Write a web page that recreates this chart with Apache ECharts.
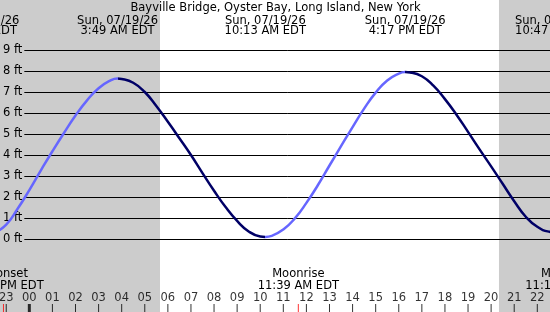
<!DOCTYPE html>
<html style="height: 100%">
<head>
  <meta charset="UTF-8" />
  <title>Tides</title>
  <script src="https://cdn.jsdelivr.net/npm/echarts@6/dist/echarts.min.js"></script>
</head>
<body style="height: 100%; margin: 0; background: #fff">
  <div id="container" style="width: 550px; height: 312px"></div>
  <script>
    // hours are counted from midnight of 07/19/26
    const tideHours = [-1.5, -1, -0.5, 0, 0.5, 1, 1.5, 2, 2.5, 3, 3.5, 3.82, 4, 4.5, 5, 5.5, 6, 6.5, 7, 7.5,
      8, 8.5, 9, 9.5, 10, 10.22, 10.5, 11, 11.5, 12, 12.5, 13, 13.5, 14, 14.5, 15, 15.5, 16, 16.28, 16.5,
      17, 17.5, 18, 18.5, 19, 19.5, 20, 20.5, 21, 21.5, 22, 22.5, 22.78, 23];
    const tideFeet = [0.3, 0.68, 1.45, 2.33, 3.27, 4.18, 5.05, 5.88, 6.6, 7.18, 7.54, 7.64, 7.62, 7.44, 7.0, 6.33,
      5.58, 4.8, 4.0, 3.14, 2.3, 1.52, 0.86, 0.36, 0.12, 0.1, 0.15, 0.45, 0.98, 1.72, 2.57, 3.5, 4.42, 5.33,
      6.21, 6.97, 7.55, 7.88, 7.95, 7.93, 7.75, 7.3, 6.66, 5.92, 5.1, 4.27, 3.46, 2.63, 1.8, 1.06, 0.58,
      0.35, 0.32, 0.33];

    const eventHours = [-2.12, 3.82, 10.22, 16.28, 22.78];
    const eventDates = ['Sat, 07/18/26', 'Sun, 07/19/26', 'Sun, 07/19/26', 'Sun, 07/19/26', 'Sun, 07/19/26'];
    const eventTimes = ['9:52 PM EDT', '3:49 AM EDT', '10:13 AM EDT', '4:17 PM EDT', '10:47 PM EDT'];

    const moonHours = [-1.12, 11.65, 23.22];
    const moonNames = ['Moonset', 'Moonrise', 'Moonset'];
    const moonTimes = ['10:53 PM EDT', '11:39 AM EDT', '11:13 PM EDT'];

    const hourTicks = [-1, 0, 1, 2, 3, 4, 5, 6, 7, 8, 9, 10, 11, 12, 13, 14, 15, 16, 17, 18, 19, 20, 21, 22];
    const sunrise = 5.66;
    const sunset = 20.34;
    const title = 'Bayville Bridge, Oyster Bay, Long Island, New York';

    const xMin = -1.27, xMax = 22.55;
    const font = 'DejaVu Sans';
    const fontSize = 11.5;
    const light = '#6666ff', dark = '#000066';

    const chart = echarts.init(document.getElementById('container'), null, { renderer: 'canvas' });

    const xAxes = [0, 1, 2, 3].map(i => ({ type: 'value', gridIndex: i, min: xMin, max: xMax, show: false }));

    const option = {
      animation: false,
      grid: [
        { left: 0, right: 0, top: 0, bottom: 0 },
        { left: 22, right: 0, top: 50, bottom: 73 },
        { left: 0, right: 0, top: 50, bottom: 73 },
        { left: 0, right: 0, top: 304, height: 8 }
      ],
      xAxis: xAxes,
      yAxis: [
        { gridIndex: 0, min: 0, max: 1, show: false },
        {
          gridIndex: 1, min: 0, max: 9, interval: 1,
          axisLine: { show: false },
          axisTick: { show: false },
          axisLabel: { formatter: '{value} ft', margin: 2, color: '#000', fontFamily: font, fontSize: fontSize },
          splitLine: { lineStyle: { color: '#000', width: 1 } }
        },
        { gridIndex: 2, min: 0, max: 9, show: false },
        { gridIndex: 3, min: 0, max: 1, show: false }
      ],
      visualMap: {
        type: 'piecewise', show: false, dimension: 0, seriesIndex: 0,
        pieces: [
          { lt: eventHours[1], color: light },
          { gte: eventHours[1], lt: eventHours[2], color: dark },
          { gte: eventHours[2], lt: eventHours[3], color: light },
          { gte: eventHours[3], color: dark }
        ]
      },
      series: [
        {
          name: 'tide', type: 'line', xAxisIndex: 2, yAxisIndex: 2,
          data: tideHours.map((h, i) => [h, tideFeet[i]]),
          smooth: true, symbol: 'none',
          lineStyle: { width: 2.5 }
        },
        {
          name: 'hours', type: 'scatter', xAxisIndex: 3, yAxisIndex: 3,
          data: hourTicks.map(h => ({
            value: [h, 0.5],
            symbolSize: h === 0 ? [3, 8] : [1, 8]
          })),
          symbol: 'rect',
          itemStyle: { color: '#000' },
          label: {
            show: true, position: 'top', distance: 0,
            color: '#000', fontFamily: font, fontSize: fontSize,
            formatter: p => String((p.value[0] + 24) % 24).padStart(2, '0')
          }
        },
        {
          name: 'moon', type: 'scatter', xAxisIndex: 3, yAxisIndex: 3,
          data: moonHours.map(h => [h, 0.5]),
          symbol: 'rect', symbolSize: [1, 8],
          itemStyle: { color: '#ff0000' }
        }
      ]
    };
    chart.setOption(option);

    const px = t => chart.convertToPixel({ xAxisIndex: 0 }, t);
    const txt = (text, x, y) => ({
      type: 'text', x: x, y: y, silent: true, z: 5,
      style: { text: text, fill: '#000', font: fontSize + 'px "' + font + '"', align: 'center', verticalAlign: 'middle' }
    });
    const band = (a, b) => ({
      type: 'rect', silent: true, z: -10,
      shape: { x: px(a), y: 0, width: px(b) - px(a), height: 312 },
      style: { fill: '#cccccc' }
    });

    const graphics = [band(xMin, sunrise), band(sunset, xMax), txt(title, 275.5, 8.5)];
    eventHours.forEach((h, i) => {
      graphics.push(txt(eventDates[i], px(h), 20.8));
      graphics.push(txt(eventTimes[i], px(h), 31.2));
    });
    moonHours.forEach((h, i) => {
      graphics.push(txt(moonNames[i], px(h), 273.8));
      graphics.push(txt(moonTimes[i], px(h), 285.8));
    });
    chart.setOption({ graphic: graphics });
  </script>
</body>
</html>
